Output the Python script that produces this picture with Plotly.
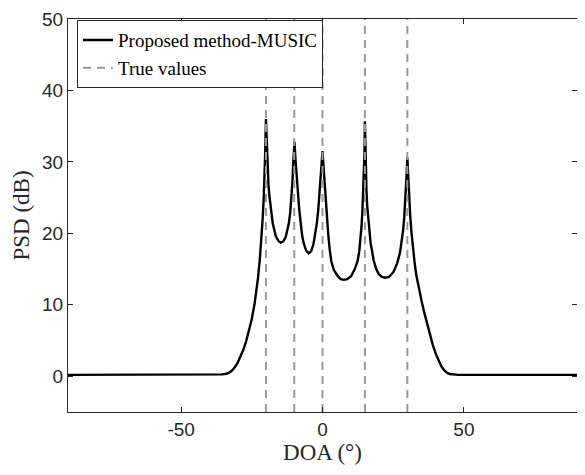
import plotly.graph_objects as go

# DOA grid (degrees) and PSD values (dB)
doa = [-90, -70, -50, -42, -38, -35.5, -34, -33, -32, -31, -30, -29, -28, -27, -26, -25, -24,
       -23.4, -22.8, -22.2, -21.7, -21.2, -20.8, -20.5, -20.25, -20,
       -19.7, -19.4, -19.1, -18.8, -18.2, -17.6, -16.5, -15.5, -14.7, -13.8, -13, -12.4, -11.9, -11.4,
       -10.9, -10.6, -10.4, -10.15, -9.9,
       -9.6, -9.3, -8.95, -8.6, -8.2, -7.8, -7.2, -6.7, -5.8, -4.9, -4.0, -3.2, -2.6, -2.0, -1.5, -1.1,
       -0.8, -0.55, -0.25, 0,
       0.25, 0.5, 0.8, 1.1, 1.4, 2.0, 2.5, 3.1, 4.0, 5.4, 6.5, 7.5, 8.8, 10.1, 11.3, 12.4, 13.0, 13.5,
       13.8, 14.1, 14.4, 14.7, 14.85, 15,
       15.15, 15.3, 15.55, 15.8, 16.3, 17.0, 18.1, 19.0, 19.9, 21.0, 22.2, 23.5, 25.1, 26.4, 27.4, 28.0,
       28.5, 28.9, 29.3, 29.6, 29.8, 30,
       30.2, 30.4, 30.6, 31.0, 31.4, 32.0, 32.6, 33.2, 34.0, 35.0, 36.0, 37.0, 38.0, 39.0, 40.0, 41.0,
       42.0, 43.0, 44.0, 45.0, 46.5, 48.0, 52, 60, 75, 90]
psd = [0.2, 0.2, 0.2, 0.2, 0.22, 0.26, 0.35, 0.5, 0.8, 1.25, 1.9, 2.7, 3.7, 4.9, 6.3, 8.0, 10.2,
       11.8, 13.8, 16.2, 18.7, 21.8, 24.8, 27.8, 31.5, 36.0,
       32.0, 28.8, 26.8, 25.3, 23.0, 21.4, 19.6, 18.9, 18.7, 18.9, 19.5, 20.4, 21.4, 23.0,
       25.3, 27.3, 29.5, 31.5, 32.8,
       30.6, 28.6, 26.8, 25.3, 23.2, 21.5, 19.7, 18.7, 17.6, 17.2, 17.5, 18.5, 19.7, 21.4, 23.3, 25.3,
       27.0, 28.9, 30.4, 31.5,
       30.0, 28.4, 26.6, 24.8, 23.2, 20.0, 17.9, 16.1, 14.9, 14.0, 13.6, 13.5, 13.6, 14.0, 14.9, 16.1, 17.5, 19.4,
       21.0, 23.0, 25.6, 28.6, 31.3, 35.7,
       32.0, 29.0, 26.0, 23.9, 21.2, 18.7, 16.2, 15.0, 14.3, 13.9, 13.8, 13.9, 14.6, 15.8, 17.3, 18.7,
       20.4, 22.2, 24.6, 26.9, 28.6, 30.6,
       28.6, 26.9, 25.3, 22.6, 20.4, 17.8, 15.8, 14.1, 12.4, 10.6, 8.9, 7.3, 5.8, 4.4, 3.2, 2.2,
       1.4, 0.85, 0.5, 0.32, 0.24, 0.2, 0.2, 0.2, 0.2, 0.2]

true_doas = [-20, -10, 0, 15, 30]
y_limits = [-5, 50]
x_limits = [-90, 90]
x_ticks = [-50, 0, 50]
y_ticks = [0, 10, 20, 30, 40, 50]

axis_color = "#262626"
serif = "Liberation Serif, Times New Roman, serif"
sans = "Liberation Sans, Arial, sans-serif"

fig = go.Figure()
fig.add_trace(go.Scatter(
    x=doa, y=psd, mode="lines", name="Proposed method-MUSIC",
    line=dict(color="black", width=2.4)))

for i, v in enumerate(true_doas):
    fig.add_trace(go.Scatter(
        x=[v, v], y=y_limits, mode="lines", name="True values",
        showlegend=(i == 0), legendgroup="true",
        line=dict(color="#999999", width=2, dash="8px,6px")))

axis_common = dict(
    showline=True, linecolor=axis_color, linewidth=1, mirror="ticks",
    ticks="inside", ticklen=5, tickcolor=axis_color, tickwidth=1,
    showgrid=False, zeroline=False, automargin=False, ticklabeloverflow="allow",
    tickfont=dict(family=sans, size=19, color=axis_color),
)

fig.update_xaxes(range=x_limits, tickvals=x_ticks, ticktext=[str(t) for t in x_ticks],
                 title=dict(text="DOA (°)", font=dict(family=serif, size=23, color=axis_color), standoff=0),
                 **axis_common)
fig.update_yaxes(range=y_limits, tickvals=y_ticks, ticktext=[str(t) for t in y_ticks],
                 title=dict(text="PSD (dB)", font=dict(family=serif, size=23, color=axis_color), standoff=6),
                 **axis_common)

fig.update_layout(
    width=569, height=459,
    margin=dict(l=60, r=0, t=11, b=55, autoexpand=False),
    plot_bgcolor="white", paper_bgcolor="white",
    legend=dict(x=0.0177, y=0.997, xanchor="left", yanchor="top",
                bgcolor="white", bordercolor=axis_color, borderwidth=1,
                font=dict(family=serif, size=19, color="black"),
                tracegroupgap=0, itemwidth=30),
    showlegend=True,
)

fig.write_html("out.html")
